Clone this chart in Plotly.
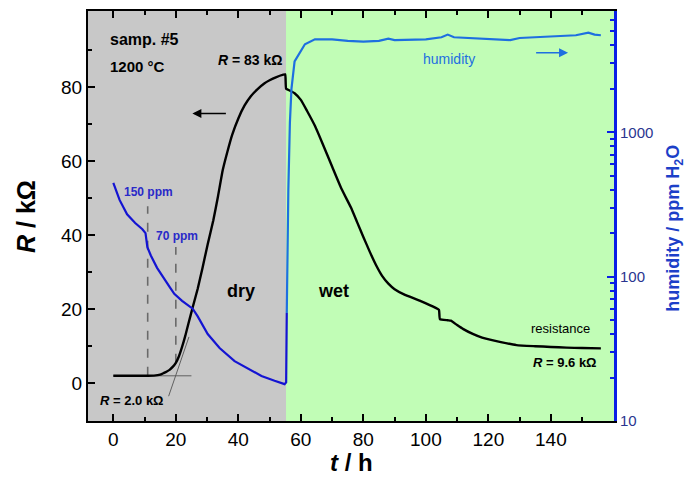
import plotly.graph_objects as go

# ---------------- data ----------------
t_R = [0, 5, 10, 13, 15, 16, 17, 18, 19, 20, 21, 22, 23, 24, 25.4, 27, 28.5, 30.2, 32, 33.5,
       35, 36.5, 38, 40, 42, 44, 46, 48.4, 50, 52, 54.4, 55.0, 55.3, 56.5, 58, 60, 62, 64.5,
       66.8, 70, 73, 76, 78, 80, 82, 84, 86, 88, 90, 93, 98, 103, 104.2, 104.5, 107, 108,
       110, 112, 115, 118, 124, 129, 135, 140, 145, 150, 156]
R_kohm = [2.0, 2.0, 2.0, 2.05, 2.3, 2.7, 3.1, 3.6, 4.4, 5.5, 7.3, 9.8, 12.7, 16.0, 20.5, 25.5,
          31.0, 37.5, 44.0, 50.5, 57.5, 62.5, 67.0, 71.5, 75.0, 77.5, 79.3, 81.0, 81.8, 82.6,
          83.3, 83.4, 79.5, 79.0, 78.3, 76.5, 73.5, 69.5, 65.0, 58.5, 52.5, 47.5, 43.5, 39.5,
          35.6, 32.0, 29.0, 26.9, 25.4, 24.0, 22.3, 20.4, 19.8, 17.3, 17.0, 16.9, 15.7, 14.6,
          13.3, 12.3, 11.1, 10.3, 10.0, 9.8, 9.6, 9.5, 9.4]

t_hum_dry = [0, 2, 4.4, 7, 9.3, 10.3, 10.9, 12, 14, 16, 18, 19.5, 22, 25.4, 27, 30.2, 34,
             38.8, 43, 47.4, 51.6, 54.8, 55.3, 55.5]
hum_dry = [446, 340, 270, 235, 213, 200, 160, 140, 115, 98, 85, 76, 68, 60, 53, 40, 32,
           26, 23, 20.5, 19, 18, 18.5, 56]
t_hum_wet = [55.5, 55.7, 56, 56.5, 57, 58, 60, 61.3, 64.5, 70, 75, 80, 85, 88, 90, 95,
             100, 105, 107, 109, 115, 120, 125, 127, 130, 140, 148, 152, 154, 156]
hum_wet = [56, 150, 400, 1170, 2000, 3100, 3700, 4070, 4400, 4400, 4300, 4250, 4300, 4450,
           4350, 4350, 4400, 4550, 4750, 4550, 4500, 4450, 4400, 4350, 4500, 4600, 4700,
           4900, 4750, 4700]

x_ticks = [0, 20, 40, 60, 80, 100, 120, 140]
x_minor = [10, 30, 50, 70, 90, 110, 130, 150]
y_ticks = [0, 20, 40, 60, 80]
y_minor = [10, 30, 50, 70, 90]
y2_ticks = [10, 100, 1000]
y2_minor = [20, 30, 40, 50, 60, 70, 80, 90, 200, 300, 400, 500, 600, 700, 800, 900,
            2000, 3000, 4000, 5000, 6000]

t_switch = 55.3
x_range = [-8.1, 160.2]

FONT = "Arial, Liberation Sans, sans-serif"
DRY_BLUE = "#1414d2"
WET_BLUE = "#1e6fe0"
LBL_BLUE = "#2a2ac8"

fig = go.Figure()

# background regions
fig.add_shape(type="rect", xref="x", yref="paper", x0=x_range[0], x1=t_switch, y0=0, y1=1,
              fillcolor="#c8c8c8", line_width=0, layer="below")
fig.add_shape(type="rect", xref="x", yref="paper", x0=t_switch, x1=x_range[1], y0=0, y1=1,
              fillcolor="#c1fdb6", line_width=0, layer="below")

# helper lines (dashed verticals, baseline, tangent)
fig.add_trace(go.Scatter(x=[11, 11], y=[2.0, 47.8], mode="lines",
                         line=dict(color="#6a6a6a", width=1.6, dash="dash"), showlegend=False))
fig.add_trace(go.Scatter(x=[20, 20], y=[5.5, 36.8], mode="lines",
                         line=dict(color="#6a6a6a", width=1.6, dash="dash"), showlegend=False))
fig.add_trace(go.Scatter(x=[0, 25], y=[2.0, 2.0], mode="lines",
                         line=dict(color="#555555", width=0.9), showlegend=False))
fig.add_trace(go.Scatter(x=[17.7, 24.2], y=[-3.5, 12.5], mode="lines",
                         line=dict(color="#555555", width=0.9), showlegend=False))

# humidity (right log axis)
fig.add_trace(go.Scatter(x=t_hum_dry, y=hum_dry, yaxis="y2", mode="lines",
                         line=dict(color=DRY_BLUE, width=2.2), showlegend=False))
fig.add_trace(go.Scatter(x=t_hum_wet, y=hum_wet, yaxis="y2", mode="lines",
                         line=dict(color=WET_BLUE, width=2.2), showlegend=False))

# resistance
fig.add_trace(go.Scatter(x=t_R, y=R_kohm, mode="lines", line_shape="spline",
                         line=dict(color="black", width=2.4, smoothing=0.4), showlegend=False))

ann = []
def txt(x, y, text, size, color="black", xanchor="center"):
    ann.append(dict(x=x, y=y, xref="x", yref="y", text=text, showarrow=False,
                    font=dict(family=FONT, size=size, color=color),
                    xanchor=xanchor, yanchor="middle"))

txt(-1.6, 92.7, "<b>samp. #5</b>", 16, xanchor="left")
txt(-1.6, 85.5, "<b>1200 °C</b>", 15, xanchor="left")
txt(44.0, 87.4, "<b><i>R</i> = 83 kΩ</b>", 14)
txt(41.0, 25, "<b>dry</b>", 18)
txt(70.5, 25, "<b>wet</b>", 18)
txt(2.9, 51.6, "<b>150 ppm</b>", 12, color=LBL_BLUE, xanchor="left")
txt(12.9, 39.8, "<b>70 ppm</b>", 12, color=LBL_BLUE, xanchor="left")
txt(-4.8, -4.6, "<b><i>R</i> = 2.0 kΩ</b>", 13, xanchor="left")
txt(153.3, 14.8, "resistance", 13, xanchor="right")
txt(155.3, 5.6, "<b><i>R</i> = 9.6 kΩ</b>", 13, xanchor="right")
txt(116.5, 87.6, "humidity", 14, color=WET_BLUE, xanchor="right")

# arrows
ann.append(dict(x=25.3, y=72.8, ax=36.5, ay=72.8, xref="x", yref="y", axref="x", ayref="y",
                text="", showarrow=True, arrowhead=2, arrowsize=1.2, arrowwidth=1.5,
                arrowcolor="black"))
ann.append(dict(x=145.5, y=89.2, ax=134.8, ay=89.2, xref="x", yref="y", axref="x", ayref="y",
                text="", showarrow=True, arrowhead=2, arrowsize=1.2, arrowwidth=1.5,
                arrowcolor=WET_BLUE))

# axis titles
ann.append(dict(x=-0.118, y=0.5, xref="paper", yref="paper", text="<b><i>R</i> / kΩ</b>",
                showarrow=False, textangle=-90, font=dict(family=FONT, size=25, color="black"),
                xanchor="center", yanchor="middle"))
ann.append(dict(x=0.5, y=-0.102, xref="paper", yref="paper", text="<b><i>t</i> / h</b>",
                showarrow=False, font=dict(family=FONT, size=24, color="black"),
                xanchor="center", yanchor="middle"))
ann.append(dict(x=1.115, y=0.47, xref="paper", yref="paper",
                text="<b>humidity / ppm H<sub>2</sub>O</b>",
                showarrow=False, textangle=-90, font=dict(family=FONT, size=18, color="#1c3fc8"),
                xanchor="center", yanchor="middle"))

fig.update_layout(
    width=686, height=483,
    margin=dict(l=88, r=72, t=9, b=62),
    paper_bgcolor="white", plot_bgcolor="#c1fdb6",
    font=dict(family=FONT, size=19, color="black"),
    annotations=ann,
    showlegend=False,
    xaxis=dict(range=x_range, tickmode="array", tickvals=x_ticks, ticks="inside", ticklen=7,
               tickwidth=2, tickcolor="black", showline=True, linecolor="black", linewidth=2,
               mirror="ticks", showgrid=False, zeroline=False,
               minor=dict(tickmode="array", tickvals=x_minor,
                          ticks="inside", ticklen=4, tickwidth=2, tickcolor="black"),
               tickfont=dict(size=19, family=FONT)),
    yaxis=dict(range=[-10.2, 100.5], tickmode="array", tickvals=y_ticks, ticks="inside",
               ticklen=7, tickwidth=2, tickcolor="black", showline=True, linecolor="black",
               linewidth=2, showgrid=False, zeroline=False,
               minor=dict(tickmode="array", tickvals=y_minor, ticks="inside",
                          ticklen=4, tickwidth=2, tickcolor="black"),
               tickfont=dict(size=19, family=FONT)),
    yaxis2=dict(type="log", range=[1, 3.84], overlaying="y", side="right", anchor="x",
                tickmode="array", tickvals=y2_ticks, ticktext=["10", "100", "1000"],
                ticks="inside", ticklen=7, tickwidth=2, tickcolor="#0a1ee6",
                showline=True, linecolor="#0a1ee6", linewidth=3, showgrid=False,
                zeroline=False,
                minor=dict(tickmode="array", tickvals=y2_minor, ticks="inside", ticklen=4,
                           tickwidth=2, tickcolor="#0a1ee6"),
                tickfont=dict(size=15, family=FONT, color="#2a3590")),
)

fig.write_html("out.html")
